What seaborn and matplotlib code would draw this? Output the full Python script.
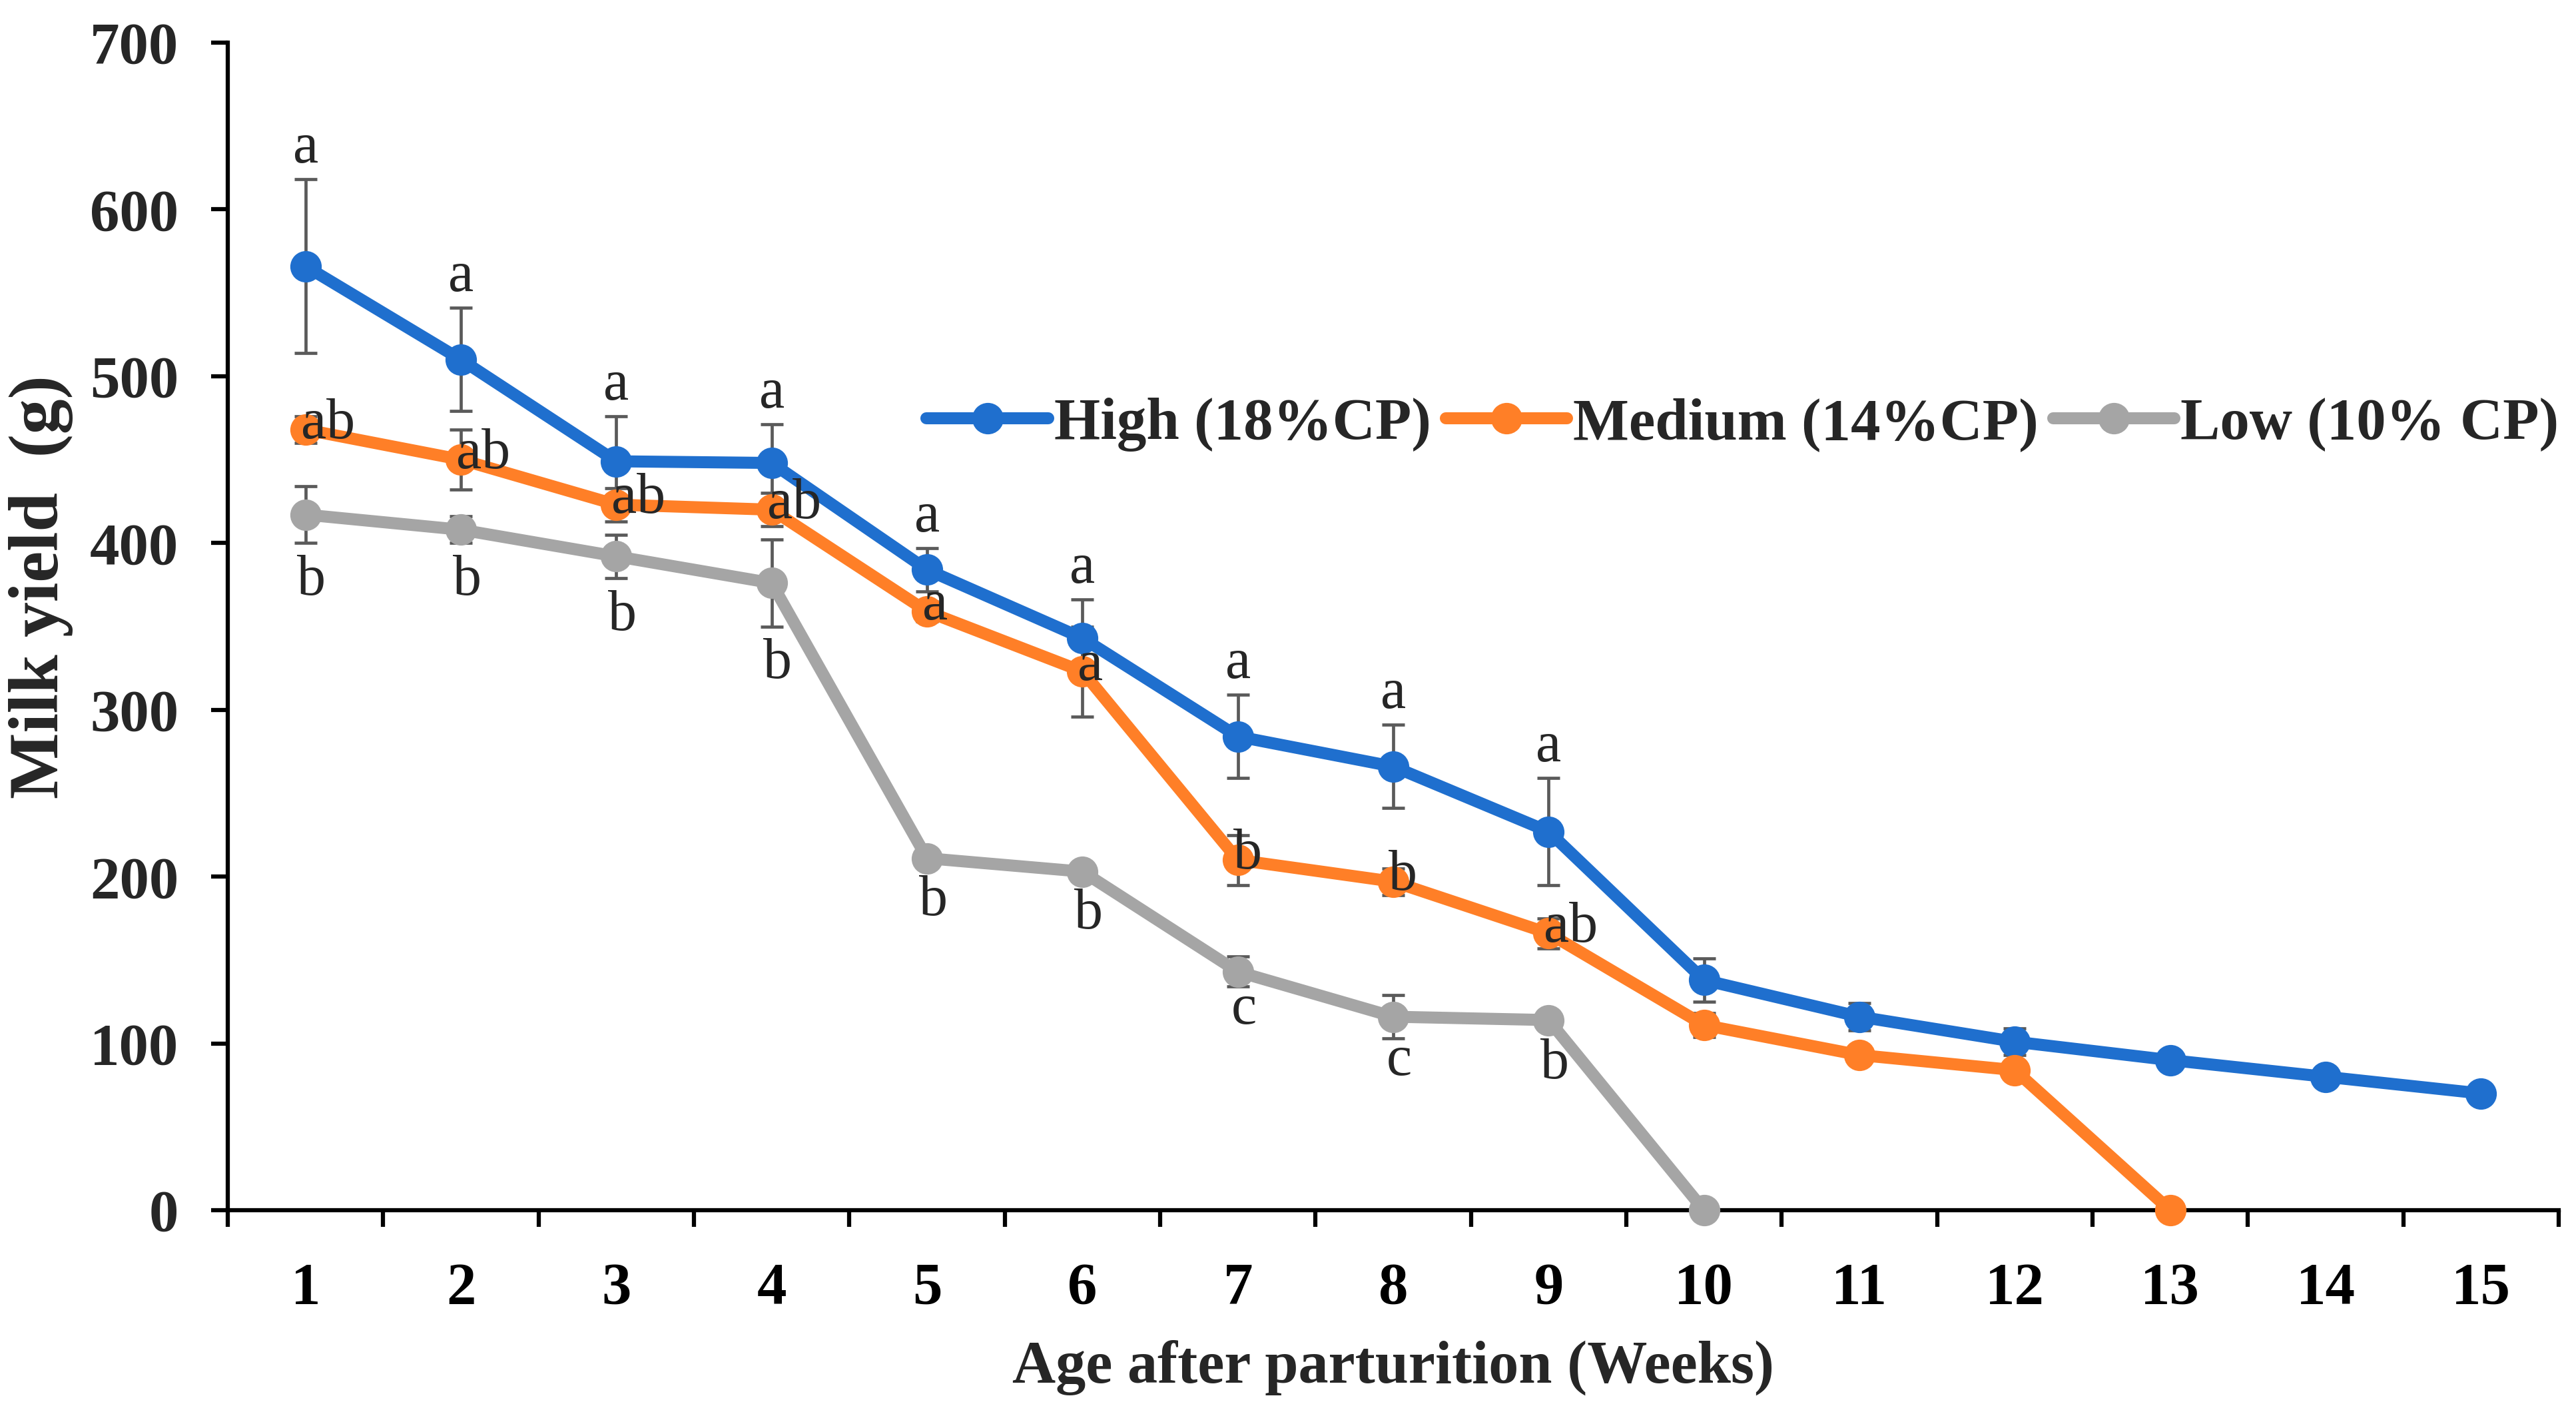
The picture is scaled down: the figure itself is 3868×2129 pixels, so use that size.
import numpy as np
import pandas as pd
import matplotlib
matplotlib.use("Agg")
import matplotlib.pyplot as plt
import seaborn as sns

# ---------------- data ----------------
weeks = list(range(1, 16))
week_labels = [str(w) for w in weeks]

high = [566, 510, 449, 448, 384, 343, 284, 266, 227, 138, 116, 101, 90, 80, 70]
high_se = [52, 31, 27, 23, 13, 23, 25, 25, 32, 13, 8, 8, 0, 0, 0]
medium = [468, 450, 423, 420, 359, 323, 210, 197, 166, 111, 93, 84, 0]
medium_se = [8, 18, 10, 10, 6, 27, 15, 8, 9, 7, 0, 0, 0]
low = [417, 408, 392, 376, 211, 203, 143, 116, 114, 0]
low_se = [17, 8, 13, 26, 3, 3, 9, 13, 4, 0]

high_letters = ["a", "a", "a", "a", "a", "a", "a", "a", "a"]
medium_letters = ["ab", "ab", "ab", "ab", "a", "a", "b", "b", "ab"]
low_letters = ["b", "b", "b", "b", "b", "b", "c", "c", "b"]

series_names = ["High (18%CP)", "Medium (14%CP)", "Low (10% CP)"]
series_values = [high, medium, low]
series_se = [high_se, medium_se, low_se]
colors = ["#1F6FCE", "#FF7F27", "#A5A5A5"]

# ---------------- style ----------------
sns.set_theme(style="white")
plt.rcParams["font.family"] = ["Liberation Serif", "DejaVu Serif"]

W, H = 3868, 2129
fig = plt.figure(figsize=(W / 100, H / 100), dpi=100)
ax = fig.add_axes([342 / W, 1 - 1817 / H, 3500 / W, 1753 / H])

rows = []
for name, vals, ses in zip(series_names, series_values, series_se):
    for w, v, s in zip(weeks, vals, ses):
        rows.append({"week": w, "yield": v, "se": s, "group": name})
df = pd.DataFrame(rows)

# error bars (behind lines)
for name in series_names:
    sub = df[df["group"] == name]
    ax.errorbar(sub["week"], sub["yield"], yerr=sub["se"], fmt="none",
                ecolor="#5A5A5A", elinewidth=3.4, capsize=12, capthick=3.4,
                zorder=1, clip_on=False)

sns.lineplot(data=df, x="week", y="yield", hue="group", hue_order=series_names,
             palette=colors, marker="o", markersize=34, markeredgewidth=0,
             linewidth=13, errorbar=None, ax=ax, zorder=3, legend=True)
for ln in ax.lines:
    ln.set_clip_on(False)

# letters
tfs = 62
for i, s in enumerate(high_letters):
    ax.text(weeks[i], high[i] + high_se[i] + 10, s, ha="center", va="baseline",
            fontsize=tfs, zorder=5)
for i, s in enumerate(medium_letters):
    ax.text(weeks[i] - 0.03, medium[i] - 5, s, ha="left", va="baseline",
            fontsize=tfs, zorder=5)
for i, s in enumerate(low_letters):
    off = 31 if "b" in s else 22
    ax.text(weeks[i] + 0.04, low[i] - low_se[i] - off, s, ha="center",
            va="baseline", fontsize=tfs, zorder=5)

# axes
ax.set_xlim(0.5, 15.5)
ax.set_ylim(0, 700)
ax.set_yticks(range(0, 701, 100))
ax.set_xticks(weeks)
ax.set_xticklabels(week_labels)
ax.set_xticks(np.arange(0.5, 15.6, 1), minor=True)

fs = 64
for lab in ax.get_xticklabels() + ax.get_yticklabels():
    lab.set_fontweight("bold")
    lab.set_fontsize(fs)
ax.tick_params(axis="x", which="major", length=0, pad=56, colors="black")
ax.tick_params(axis="x", which="minor", length=18, width=4.5, direction="out",
               color="black", bottom=True)
ax.tick_params(axis="y", which="major", length=18, width=4.5, direction="out",
               pad=35, color="black", left=True)

for side in ["top", "right"]:
    ax.spines[side].set_visible(False)
for side in ["left", "bottom"]:
    ax.spines[side].set_linewidth(4.5)
    ax.spines[side].set_color("black")
ax.grid(False)

ax.set_xlabel("Age after parturition (Weeks)", fontsize=fs + 1, fontweight="bold")
ax.set_ylabel("Milk yield  (g)", fontsize=76, fontweight="bold")
ax.xaxis.set_label_coords(0.5, -0.1346)
ax.xaxis.label.set_va("center")
ax.yaxis.set_label_coords(-0.08, 0.534)
ax.yaxis.label.set_va("center")

handles, labels = ax.get_legend_handles_labels()
hmap = dict(zip(labels, handles))
leg = ax.legend([hmap[n] for n in series_names], series_names, ncol=3,
                loc="center right", bbox_to_anchor=(1.0, 0.673), frameon=False,
                borderaxespad=0, borderpad=0, handlelength=2.05,
                handletextpad=0.1, columnspacing=0.25,
                prop={"family": "Liberation Serif", "weight": "bold", "size": fs})

fig.savefig("out.png", dpi=100, facecolor="white")
